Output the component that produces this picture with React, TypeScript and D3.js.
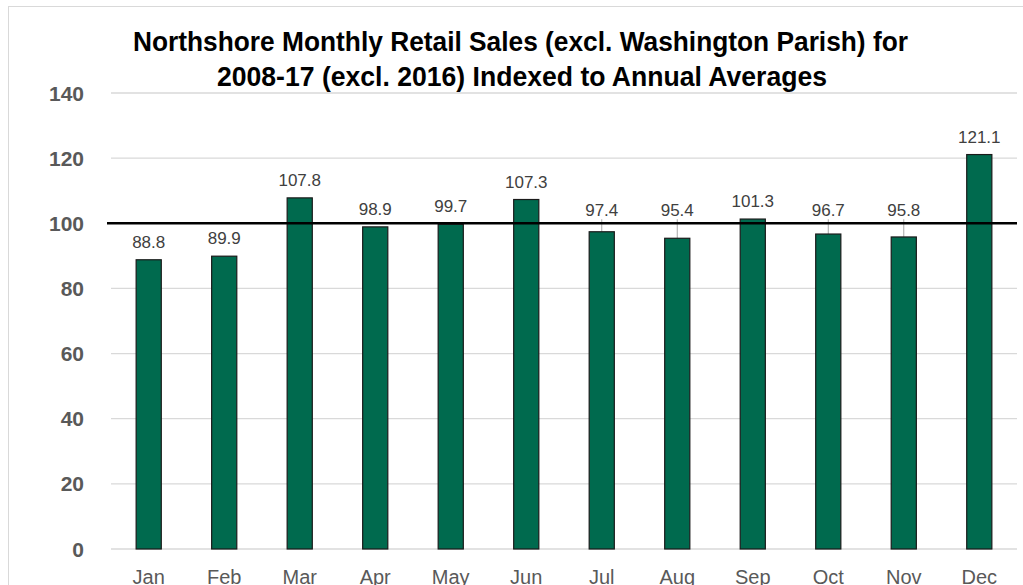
import React from "react";
import * as d3 from "d3";

const months = ["Jan", "Feb", "Mar", "Apr", "May", "Jun", "Jul", "Aug", "Sep", "Oct", "Nov", "Dec"];
const indexValues = [88.8, 89.9, 107.8, 98.9, 99.7, 107.3, 97.4, 95.4, 101.3, 96.7, 95.8, 121.1];
const yTicks = [0, 20, 40, 60, 80, 100, 120, 140];
const referenceValue = 100;
const titleLines = [
  "Northshore Monthly Retail Sales (excl.  Washington Parish) for",
  "2008-17 (excl. 2016) Indexed to Annual Averages",
];

const W = 1023;
const H = 585;
const left = 111;
const right = 1017;
const top = 93;
const bottom = 549;
const FONT = "'Liberation Sans Narrow', 'Arial Narrow', 'Liberation Sans', Arial, sans-serif";

export default function App() {
  const x = d3.scaleBand<string>().domain(months).range([left, right]).paddingInner(0.667).paddingOuter(0.333);
  const y = d3.scaleLinear().domain([0, 140]).range([bottom, top]);
  const refY = y(referenceValue);

  return (
    <svg width={W} height={H} style={{ position: "absolute", left: 0, top: 0, background: "#fff" }}>
      <rect x={8.5} y={6.5} width={1200} height={800} fill="#fff" stroke="#d9d9d9" strokeWidth={1} />
      {titleLines.map((t, i) => (
        <text
          key={i}
          x={i === 0 ? 520.5 : 522}
          y={i === 0 ? 51 : 86}
          textAnchor="middle"
          fontFamily={FONT}
          fontWeight="bold"
          fontSize={27}
          fill="#000"
          textLength={i === 0 ? 775 : 610}
          lengthAdjust="spacingAndGlyphs"
        >
          {t}
        </text>
      ))}
      {yTicks.map((t) => (
        <g key={t}>
          <line x1={left} x2={right} y1={y(t)} y2={y(t)} stroke="#d9d9d9" strokeWidth={1.3} />
          <text
            x={84}
            y={y(t)}
            dy="0.36em"
            textAnchor="end"
            fontFamily={FONT}
            fontWeight="bold"
            fontSize={21}
            fill="#595959"
          >
            {t}
          </text>
        </g>
      ))}
      {months.map((m, i) => {
        const v = indexValues[i];
        const bx = x(m)!;
        const bw = x.bandwidth();
        const cx = bx + bw / 2;
        const barTop = y(v);
        const normal = barTop - 12;
        const maxY = refY - 7;
        const overlaps = normal > maxY && normal - 14 < refY + 3;
        const labelY = overlaps ? maxY : normal;
        const displaced = overlaps;
        return (
          <g key={m}>
            {displaced && (
              <line x1={cx} x2={cx} y1={labelY + 3} y2={barTop} stroke="#a6a6a6" strokeWidth={1} />
            )}
            <rect x={bx} y={barTop} width={bw} height={bottom - barTop} fill="#006a4e" stroke="#1a1a1a" strokeWidth={1.2} />
            <text x={cx} y={labelY} textAnchor="middle" fontFamily={FONT} fontSize={17} fill="#404040">
              {v.toFixed(1)}
            </text>
            <text x={cx} y={584} textAnchor="middle" fontFamily={FONT} fontSize={20} fill="#595959">
              {m}
            </text>
          </g>
        );
      })}
      <line x1={107} x2={right} y1={refY} y2={refY} stroke="#000" strokeWidth={2.5} />
    </svg>
  );
}
